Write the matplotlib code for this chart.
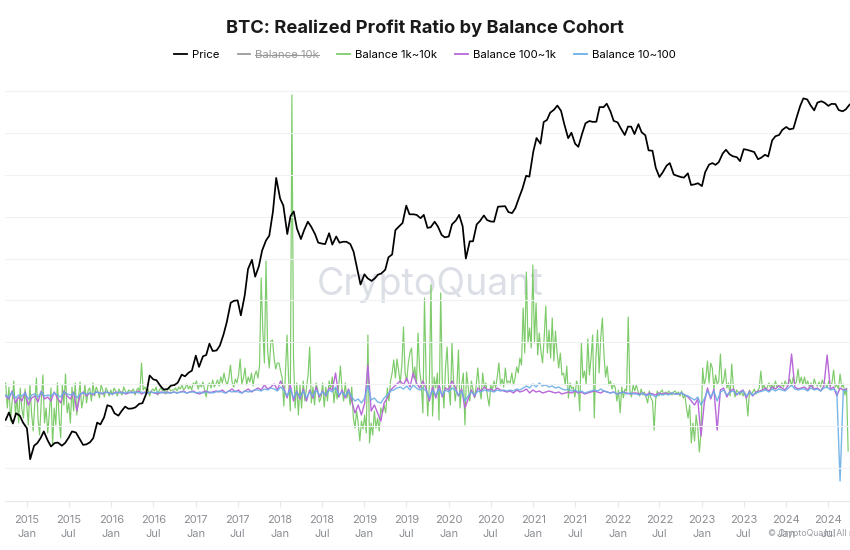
import numpy as np
import pandas as pd
import matplotlib
matplotlib.use('Agg')
import matplotlib.pyplot as plt
from matplotlib.lines import Line2D

plt.rcParams['font.family'] = ['Inter', 'DejaVu Sans']

# BTC price, sampled on the 1st and 15th of each month (Oct 2014 .. Oct 2024)
p2014 = [345, 390, 325, 385, 370, 330]
p2015 = [300, 180, 225, 235, 255, 285, 245, 222, 235, 237, 225, 235, 258, 285, 280, 255, 228, 230, 238, 255, 330, 320, 360, 440]
p2016 = [430, 385, 370, 400, 430, 415, 417, 425, 450, 455, 535, 720, 675, 665, 605, 570, 575, 608, 615, 640, 730, 710, 755, 780]
p2017 = [1000, 830, 990, 1010, 1220, 1080, 1090, 1180, 1420, 1740, 2400, 2480, 2500, 1950, 2730, 4200, 4890, 3700, 4400, 5700, 6750, 7300, 10900, 19000]
p2018 = [13500, 12000, 7500, 10100, 10900, 8200, 6900, 8000, 9200, 8500, 7500, 6500, 6400, 6350, 7600, 6300, 7200, 6500, 6600, 6600, 6350, 5600, 4200, 3250]
p2019 = [3850, 3600, 3450, 3600, 3830, 3900, 4150, 5100, 5350, 8000, 8550, 9000, 12000, 10400, 10400, 10300, 9750, 10300, 8300, 8400, 9200, 8500, 7400, 7100]
p2020 = [7200, 8800, 9400, 10300, 8550, 5000, 6650, 6650, 8800, 9300, 10200, 9450, 9230, 9200, 11800, 11850, 11900, 10800, 10600, 11500, 13800, 15900, 19700, 19400]
p2021 = [29400, 36800, 33500, 48000, 49600, 56000, 58900, 63000, 57800, 46400, 36700, 40200, 33500, 31800, 39900, 47000, 48800, 48100, 48200, 61500, 61300, 65000, 57200, 48900]
p2022 = [47700, 43100, 38700, 44500, 44400, 39300, 46300, 40500, 38500, 30000, 29800, 22500, 19300, 20800, 23300, 24300, 20100, 19700, 19300, 19100, 20500, 16900, 17100, 17400]
p2023 = [16600, 20900, 23700, 24300, 23600, 24700, 28500, 30300, 28100, 27200, 26800, 25100, 30600, 30300, 29700, 29200, 25900, 26600, 27900, 27100, 35400, 37900, 38700, 42100]
p2024 = [44200, 42500, 43100, 51800, 62400, 71000, 69700, 63400, 58200, 66200, 67700, 66000, 62700, 64800, 64600, 58500, 57300, 59200, 64000]
price = p2014 + p2015 + p2016 + p2017 + p2018 + p2019 + p2020 + p2021 + p2022 + p2023 + p2024

# Balance 1k~10k realized profit ratio, weekly, one list per quarter (2014Q4 .. 2024Q3)
green_q = [
    [1.0, -1.5, 0.6, -2.8, -0.8, 1.2, -2.2, -0.5, -3.0, 0.5, -1.6, -2.5, 0.4],
    [-1.2, -3.2, 0.8, -2.0, -3.8, -1.0, 1.5, -2.6, -4.2, -0.8, 1.8, -3.0, -1.5],
    [-4.0, -2.0, 0.5, -5.2, -1.5, -3.2, 1.0, -2.4, -4.5, 0.8, -1.2, 1.9, -2.0],
    [-1.0, -3.0, 0.6, -1.8, 1.0, -2.2, -0.5, 1.1, -1.5, -0.6, 0.8, -1.0, 0.3],
    [0.5, -0.8, 1.0, -0.3, 0.6, 0.2, -0.5, 0.8, 0.3, -0.4, 0.5, 0.2, -0.3],
    [0.3, -0.2, 0.5, 0.2, -0.3, 0.4, 0.1, -0.2, 0.6, 0.2, -0.1, 0.3, 0.2],
    [0.2, 0.4, -0.2, 0.3, 0.5, 0.1, 3.0, 0.3, 0.6, 0.2, 0.4, -0.3, 0.2],
    [0.4, 0.2, 0.6, -0.2, 0.3, 0.5, 0.2, 0.4, -0.1, 0.3, 0.5, 0.2, 0.3],
    [0.3, 0.5, 0.2, 0.6, 0.4, 0.8, 0.3, 0.5, 0.9, 0.4, 0.7, 0.3, 1.0],
    [0.8, 1.2, 0.4, 0.9, 0.6, 1.1, 0.3, -0.4, 0.7, 1.0, 0.5, 1.3, 0.6],
    [0.9, 1.3, 0.7, 1.6, 1.0, 2.0, 1.2, 0.8, 1.5, 2.8, 1.1, 0.6, 1.4],
    [1.0, 1.8, 3.4, 0.9, 1.5, 2.5, 0.8, 1.6, 1.1, 2.0, 0.7, 1.8, 2.2],
    [1.5, 2.8, 11.5, 6.3, 3.0, 13.2, 4.2, 2.5, 5.2, 5.3, 3.5, 2.4, 3.0],
    [3.0, 2.2, 1.5, -1.3, 2.0, 5.8, 1.2, -1.8, 29.8, 3.5, -1.5, 1.0, -2.2],
    [0.8, -1.5, 1.2, -0.8, 0.5, 1.8, 4.6, -1.0, 0.6, -1.2, 1.0, 0.3, -0.9],
    [-0.5, 1.0, -1.4, 0.6, -0.8, 1.2, 0.4, 1.6, -1.0, 0.5, -0.6, 0.8, 2.7],
    [0.4, -0.8, 1.0, -0.5, 0.3, -1.2, 0.6, -2.5, -3.5, -1.8, -3.0, -4.8, -2.8],
    [-3.6, -2.2, -4.0, 5.8, -5.0, -3.0, -4.2, -1.8, -3.5, -2.5, -3.8, -1.5, -2.0],
    [-1.2, -2.0, 0.5, -0.8, 1.2, 2.0, 3.3, 1.5, 3.4, 2.2, 1.0, 2.8, 6.6],
    [2.0, 1.2, 3.0, 4.0, 4.5, 1.5, 2.6, 0.8, 6.0, 2.2, 1.0, -2.0, 9.5],
    [1.5, -2.3, 0.8, 10.8, -2.3, 1.6, 0.5, 2.0, -2.7, 10.0, 1.2, -1.5, 2.5],
    [4.6, 0.5, -1.2, 5.0, 1.0, -0.8, 0.6, 4.3, -1.5, 0.8, 2.0, -3.2, 2.1],
    [0.6, -0.8, 1.2, 0.3, -0.5, 0.8, 2.5, 0.4, -0.6, 2.0, 0.5, 1.0, -0.4],
    [-1.3, 0.8, 0.3, 1.2, 0.5, 1.6, 3.0, 0.8, 1.4, 0.6, 2.5, 1.0, 1.2],
    [1.0, 2.0, 0.8, 1.5, 2.6, 2.0, 3.5, 2.8, 8.5, 4.0, 12.1, 5.0, 6.5],
    [4.5, 12.8, 5.0, 9.0, 3.8, 6.0, 4.2, 3.0, 5.5, 8.7, 4.0, 6.3, 3.5],
    [7.5, 3.2, 6.2, 4.0, 2.5, 4.0, 1.8, 2.0, 0.8, 2.7, -0.5, 1.0, 0.4],
    [0.6, -0.4, 1.2, 0.8, -1.8, 5.0, 1.5, 2.2, 0.9, 5.4, 1.8, 3.5, 5.8],
    [-2.5, 3.5, 6.3, 2.0, 5.5, 7.5, 3.8, 1.6, 2.7, 0.8, 1.2, 0.4, 0.9],
    [0.5, -0.8, 0.3, -2.0, 0.6, -0.5, 0.4, 0.2, 7.6, 0.3, -0.4, 0.8, 0.2],
    [0.8, 0.2, -0.3, 0.4, -0.2, 0.1, -0.4, -1.0, 0.2, -0.5, -0.8, -3.7, -0.6],
    [0.2, -0.3, 0.1, 0.3, -0.2, 0.1, -0.1, 0.2, 0.0, -0.2, 0.1, 0.2, -0.1],
    [0.1, -0.3, 0.2, -0.5, -0.2, -1.5, -2.5, -1.2, -5.0, -3.0, -4.8, -2.2, -3.5],
    [-5.9, -4.0, 2.5, 0.8, 1.5, 3.2, 1.0, 3.0, 2.5, 0.4, 1.8, 0.9, 1.2],
    [3.9, 0.8, 1.2, 2.4, 0.5, 1.0, -0.3, 2.9, 0.6, -0.4, 0.3, 0.1, -0.2],
    [0.2, -0.3, 0.1, -0.5, -2.3, 0.3, -0.2, 0.1, 0.4, -0.1, 0.2, 0.5, 2.2],
    [0.4, 0.8, 0.3, 0.6, 1.0, 0.5, 0.9, 0.4, 1.2, 0.6, 0.8, 0.5, 1.0],
    [0.6, 1.2, 0.8, 1.0, 1.4, 0.7, 1.6, 0.9, 1.1, 2.4, 1.0, 1.6, 0.8],
    [1.6, 0.8, 1.2, 0.6, 1.0, 0.5, 1.4, 0.9, 0.7, 1.1, 0.6, 1.3, 0.8],
    [0.9, 0.5, 1.2, 0.7, 1.0, 2.3, 0.6, 0.8, 0.4, 1.9, 0.6, 0.9, -0.2],
    [0.5, -5.8],
]

# Balance 100~1k, every two weeks, one list per half year
purple_h = [
    [-0.3, -0.6, 0.2, -1.0, -0.4, -0.8, 0.1, -1.2, -0.5, -0.3, -0.9, 0.2, -0.6],
    [-0.4, -0.8, 0.1, -0.5, -1.0, 0.2, -0.3, -0.6, 0.1, -1.8, -0.2, 0.1, -0.3],
    [0.0, -0.2, 0.1, 0.0, -0.1, 0.1, 0.0, -0.1, 0.1, 0.0, 0.1, -0.1, 0.0],
    [0.1, 0.0, 0.2, -0.1, 0.1, 0.0, 0.1, 0.0, -0.1, 0.1, 0.0, 0.1, 0.0],
    [0.1, 0.0, 0.1, 0.2, 0.0, 0.1, 0.2, 0.0, -0.1, 0.1, 0.2, 0.0, 0.1],
    [0.2, 0.1, 0.3, 0.0, 0.2, 0.4, 0.1, 0.3, 0.0, 0.2, 0.4, 0.1, 0.3],
    [0.5, 0.3, 0.8, 0.4, 0.6, 0.9, 0.3, 1.2, 0.5, -0.5, 0.8, -0.8, 0.2],
    [-0.6, 0.4, -0.8, 0.3, -0.5, 0.6, -0.4, 0.2, -0.3, 0.5, 0.3, 2.0, -0.4],
    [0.3, -0.5, 0.4, -0.8, -2.0, -1.2, -2.2, -1.0, 2.8, -1.8, -1.2, -2.0, -2.8],
    [-1.0, -0.5, 0.3, 0.6, 0.9, 1.2, 0.8, 1.5, 0.6, 2.0, 1.0, 0.5, 1.2],
    [0.4, -0.8, 0.6, -0.5, 0.8, -0.4, 0.5, 0.3, 1.2, 0.6, -0.3, 0.4, -1.5],
    [-0.6, 0.3, -0.4, 0.5, 0.2, 0.6, 0.3, 0.4, 0.2, 0.5, 0.3, 0.2, 0.1],
    [0.2, 0.0, 0.3, 0.1, 0.2, 0.4, 0.0, 0.3, 0.1, 0.2, 0.0, 0.1, 0.2],
    [0.1, 0.0, 0.1, -0.1, 0.0, 0.1, 0.0, 0.2, 0.0, 0.1, -0.1, 0.0, 0.1],
    [0.2, 0.1, 0.0, 0.2, 0.1, 0.0, 0.1, -0.1, 0.0, 0.1, 0.0, -0.1, 0.0],
    [0.0, -0.1, 0.0, -0.2, 0.0, -0.1, -0.2, 0.0, -0.1, 0.0, -0.1, 0.0, -0.1],
    [-0.1, 0.0, -0.2, -0.4, -0.8, -1.2, -0.6, -4.3, -1.0, 0.5, -0.6, 0.4, -3.7],
    [0.3, 0.5, -0.4, 0.2, 0.4, -0.2, 0.1, 0.3, -0.5, 0.2, -0.3, 0.1, 0.2],
    [0.3, 0.5, 0.2, 0.6, 0.4, 0.7, 0.5, 0.3, 0.8, 3.9, 0.6, 0.4, 0.5],
    [0.6, 0.3, 0.8, 0.4, 0.5, 0.2, 0.7, 3.8, 0.4, 0.6, -0.3, 0.5, 0.3],
    [0.4],
]

# Balance 10~100, every two weeks, one list per half year
blue_h = [
    [-0.2, -0.4, 0.1, -0.5, -0.2, -0.3, 0.0, -0.6, -0.2, -0.1, -0.4, 0.1, -0.3],
    [-0.2, -0.3, 0.0, -0.2, -0.4, 0.1, -0.1, -0.2, 0.0, -0.5, -0.1, 0.0, -0.1],
    [0.0, -0.1, 0.1, 0.0, 0.0, 0.1, 0.0, -0.1, 0.0, 0.1, 0.0, 0.0, 0.1],
    [0.0, 0.1, 0.0, 0.1, 0.0, 0.0, 0.1, 0.0, 0.1, 0.0, 0.1, 0.0, 0.0],
    [0.1, 0.0, 0.1, 0.1, 0.0, 0.1, 0.1, 0.0, 0.1, 0.0, 0.1, 0.1, 0.0],
    [0.1, 0.2, 0.1, 0.0, 0.2, 0.1, 0.2, 0.1, 0.0, 0.2, 0.1, 0.2, 0.3],
    [0.3, 0.2, 0.4, 0.3, 0.5, 0.4, 0.2, 0.6, 0.3, -0.3, 0.4, -0.5, 0.1],
    [-0.4, 0.2, -0.5, 0.1, -0.3, 0.3, -0.2, 0.1, -0.2, 0.3, 0.1, 0.6, -0.2],
    [0.1, -0.3, 0.2, -0.4, -0.8, -0.6, -1.0, -0.5, 0.8, -0.7, -0.5, -0.9, -1.0],
    [-0.5, -0.2, 0.2, 0.3, 0.5, 0.6, 0.4, 0.7, 0.3, 0.8, 0.5, 0.3, 0.5],
    [0.2, -0.4, 0.3, -0.2, 0.4, -0.2, 0.3, 0.1, 0.5, 0.3, -0.2, 0.2, -0.8],
    [-0.3, 0.1, -0.2, 0.2, 0.1, 0.3, 0.2, 0.2, 0.1, 0.3, 0.2, 0.3, 0.2],
    [0.3, 0.2, 0.4, 0.3, 0.5, 0.7, 0.5, 0.9, 0.6, 1.0, 0.7, 0.8, 0.6],
    [0.7, 0.5, 0.6, 0.4, 0.3, 0.4, 0.2, 0.3, 0.1, 0.2, 0.0, 0.1, 0.2],
    [0.3, 0.2, 0.4, 0.2, 0.1, 0.0, 0.1, -0.1, 0.0, 0.1, -0.1, 0.0, -0.1],
    [-0.1, -0.2, 0.0, -0.3, -0.1, -0.2, -0.4, -0.1, -0.2, -0.1, -0.2, 0.0, -0.1],
    [-0.1, 0.0, -0.2, -0.3, -0.5, -0.7, -0.4, -1.2, -0.6, 0.2, -0.4, 0.2, -0.8],
    [0.1, 0.3, -0.2, 0.1, 0.2, -0.1, 0.0, 0.2, -0.3, 0.1, -0.2, 0.0, 0.1],
    [0.2, 0.3, 0.1, 0.4, 0.2, 0.4, 0.3, 0.2, 0.5, 0.8, 0.4, 0.3, 0.4],
    [0.4, 0.2, 0.5, 0.3, 0.4, 0.2, 0.5, 0.6, 0.3, 0.4, 0.1, -8.8, 0.3],
    [0.2],
]

tick_labels = ['2015\nJan', '2015\nJul', '2016\nJan', '2016\nJul', '2017\nJan', '2017\nJul',
               '2018\nJan', '2018\nJul', '2019\nJan', '2019\nJul', '2020\nJan', '2020\nJul',
               '2021\nJan', '2021\nJul', '2022\nJan', '2022\nJul', '2023\nJan', '2023\nJul',
               '2024\nJan', '2024\nJul']

green = [v for q in green_q for v in q]
purple = [v for h in purple_h for v in h]
blue = [v for h in blue_h for v in h]

months = pd.date_range('2014-10-01', '2024-10-01', freq='MS')
price_dates = sorted([m for m in months] + [m + pd.Timedelta(days=14) for m in months[:-1]])
green_dates = pd.date_range('2014-10-01', periods=len(green), freq='7D')
purple_dates = pd.date_range('2014-10-01', periods=len(purple), freq='14D')
blue_dates = pd.date_range('2014-10-01', periods=len(blue), freq='14D')
tick_dates = pd.date_range('2015-01-01', '2024-07-01', freq='6MS')

C_GREEN = '#7dcb6a'
C_PURPLE = '#b868d8'
C_BLUE = '#6aaee6'

fig = plt.figure(figsize=(8.5, 5.5), dpi=100)
ax = fig.add_axes([5 / 850, 1 - 501 / 550, 845 / 850, 413 / 550])
ax2 = ax.twinx()

ax.plot(green_dates, green, color=C_GREEN, lw=0.85, zorder=2)
ax.plot(purple_dates, purple, color=C_PURPLE, lw=1.0, zorder=3)
ax.plot(blue_dates, blue, color=C_BLUE, lw=1.0, alpha=0.9, zorder=4)
ax.set_ylim(-10.8, 30.5)
ax.set_xlim(pd.Timestamp('2014-09-28'), pd.Timestamp('2024-10-03'))

ax2.plot(price_dates, price, color='black', lw=1.25)
ax2.set_yscale('log')
ax2.set_ylim(90, 84300)

# faint horizontal grid
for g in [80000 / 2 ** k for k in range(10)]:
    ax2.axhline(g, color='#f0f1f4', lw=0.8, zorder=0)

for a in (ax, ax2):
    a.set_yticks([])
    a.minorticks_off()
    for s in ['top', 'left', 'right']:
        a.spines[s].set_visible(False)
ax2.spines['bottom'].set_visible(False)
ax.spines['bottom'].set_color('#e6e8ec')

ax.set_xticks(tick_dates)
ax.set_xticklabels(tick_labels, fontsize=8, color='#8a8d93', linespacing=1.5)
ax.tick_params(axis='x', length=4, color='#e6e8ec', pad=6)

ax.text(0.503, 0.523, 'CryptoQuant', transform=ax.transAxes, ha='center', va='center',
        fontsize=27, color='#dcdfe6', zorder=1)
fig.text(0.904, 1 - 534 / 550, '© CryptoQuant. All rights reserved', fontsize=6.3,
         color='#9a9da3', ha='left', va='center')

fig.text(0.5, 1 - 28 / 550, 'BTC: Realized Profit Ratio by Balance Cohort', ha='center', va='center',
         fontsize=13.2, fontweight='bold', color='#1a1a1a')

handles = [Line2D([], [], color='black', lw=1.3),
           Line2D([], [], color='#9a9a9a', lw=1.3),
           Line2D([], [], color=C_GREEN, lw=1.3),
           Line2D([], [], color=C_PURPLE, lw=1.3),
           Line2D([], [], color=C_BLUE, lw=1.3)]
labels = ['Price', 'Balance 10k', 'Balance 1k~10k', 'Balance 100~1k', 'Balance 10~100']
leg = fig.legend(handles, labels, loc='center', bbox_to_anchor=(0.5, 1 - 55 / 550), ncol=5,
                 frameon=False, fontsize=8.2, handlelength=1.1, handletextpad=0.45, columnspacing=1.6)
texts = leg.get_texts()
texts[1].set_color('#9a9a9a')

# strike through the hidden series label
fig.canvas.draw()
bb = texts[1].get_window_extent().transformed(fig.transFigure.inverted())
ymid = (bb.y0 + bb.y1) / 2
fig.add_artist(Line2D([bb.x0, bb.x1], [ymid, ymid], transform=fig.transFigure, color='#9a9a9a', lw=0.8))

fig.savefig('out.png', dpi=100)
